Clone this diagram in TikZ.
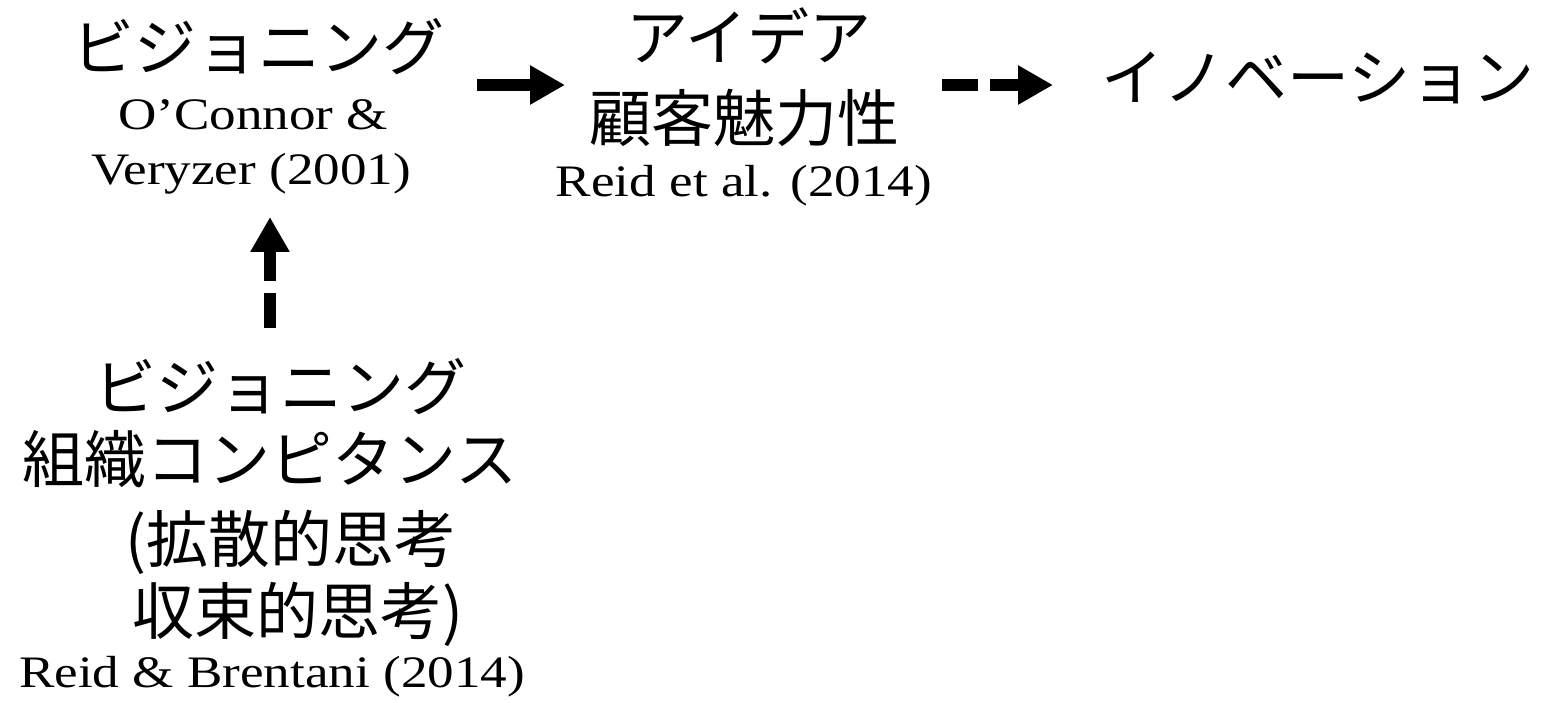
\documentclass[tikz,border=0pt]{standalone}
\usepackage{fontspec}
\setmainfont{Liberation Serif}
\newfontfamily\jpfont{Noto Sans CJK JP}
\newfontfamily\latfont[FakeStretch=1.18]{Liberation Serif}
\usetikzlibrary{arrows.meta}
\tikzset{
  jptext/.style={font=\jpfont\fontsize{62pt}{62pt}\selectfont, anchor=base, inner sep=0pt},
  lattext/.style={font=\latfont\fontsize{45pt}{45pt}\selectfont, anchor=base, inner sep=0pt},
  bigarrow/.style={line width=12pt, line cap=butt, -{Triangle[length=35pt, width=37pt]}},
  dasharrow/.style={bigarrow, dash pattern=on 36pt off 12pt}
}
\begin{document}
\begin{tikzpicture}[x=1pt, y=-1pt]
\useasboundingbox[fill=white] (0,0) rectangle (1547,703);
% top-left block
\node[jptext]  (visa) at (258,71)  {ビジョニング};
\node[lattext] (visb) at (253,130) {O’Connor \&};
\node[lattext] (visc) at (251,185) {Veryzer (2001)};
% middle block
\node[jptext]  (ideaa) at (749,61)  {アイデア};
\node[jptext]  (ideab) at (744,142) {顧客魅力性};
\node[lattext] (ideac) at (744,197) {Reid et al. (2014)};
% right
\node[jptext] (inno) at (1318,101) {イノベーション};
% bottom block
\node[jptext]  (compa) at (280,410) {ビジョニング};
\node[jptext]  (compb) at (270,482) {組織コンピタンス};
\node[jptext]  (compc) at (291,562) {(拡散的思考};
\node[jptext]  (compd) at (298,634) {収束的思考)};
\node[lattext] (compe) at (272,687) {Reid \& Brentani (2014)};
% arrow ends
\coordinate (a1s) at (477,85);
\coordinate (a1e) at (565,85);
\coordinate (a2s) at (942,85);
\coordinate (a2e) at (1053,85);
\coordinate (a3s) at (270,328);
\coordinate (a3e) at (270,217);
\draw[bigarrow]  (a1s) -- (a1e);
\draw[dasharrow] (a2s) -- (a2e);
\draw[bigarrow, dash pattern=on 35pt off 12pt] (a3s) -- (a3e);
\end{tikzpicture}
\end{document}
